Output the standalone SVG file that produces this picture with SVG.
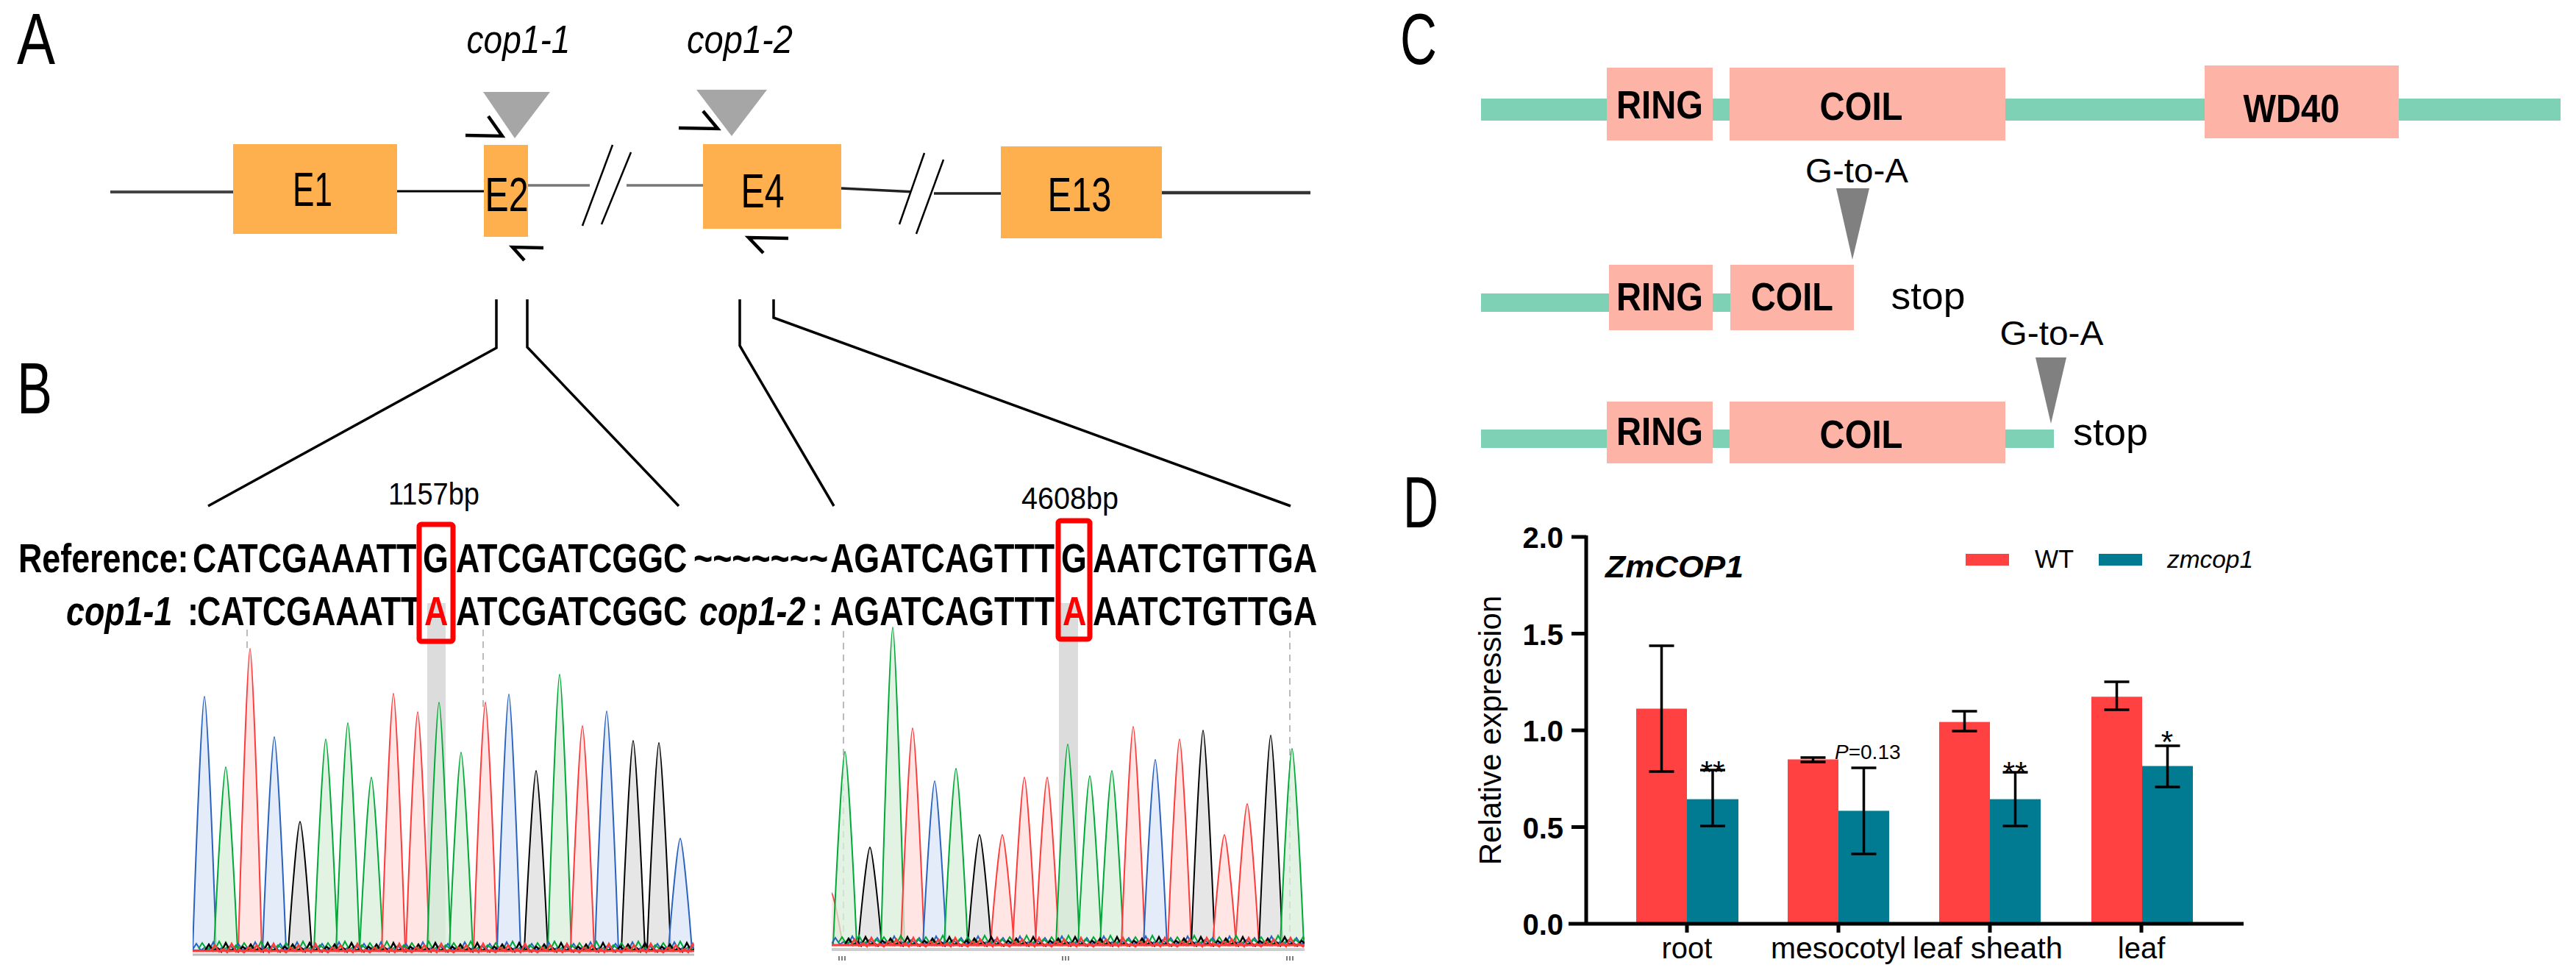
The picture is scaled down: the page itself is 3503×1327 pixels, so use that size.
<svg xmlns="http://www.w3.org/2000/svg" xmlns:xlink="http://www.w3.org/1999/xlink" width="3503" height="1327" viewBox="0 0 3503 1327">
<style>
text{font-family:"Liberation Sans",Arial,sans-serif;fill:#000}
.plabel{font-size:98px}
.exon{fill:#FEB04E}
.exl{font-size:64px;text-anchor:middle}
.cop{font-size:54px;font-style:italic;text-anchor:middle}
.seq{font-size:56px;font-weight:bold}
.it{font-style:italic}
.red{fill:#FF0000}
.bp{font-size:42px;text-anchor:middle}
.dom{fill:#FDB4A6}
.bar{fill:#7ED1B5}
.doml{font-size:53px;font-weight:bold;text-anchor:middle}
.gta{font-size:47px;text-anchor:middle}
.stop{font-size:52px;text-anchor:middle}
.ax{stroke:#000;stroke-width:5;fill:none}
.tick{font-size:40px;font-weight:bold;text-anchor:end}
.cat{font-size:40px;text-anchor:middle}
.wt{fill:#FF4141}
.zm{fill:#007B91}
.err{stroke:#000;stroke-width:3.5;fill:none}
.star{font-size:42px;text-anchor:middle}
.prm{stroke:#000;stroke-width:4.5;fill:none;stroke-linejoin:miter}
.brk{stroke:#000;stroke-width:2.5}
.conn{stroke:#000;stroke-width:3.5;fill:none}
.pk{stroke-width:2;fill-opacity:0.75}
.pB{stroke:#2A62C0;fill:#DCE6F7}
.pG{stroke:#00A838;fill:#D8EFDA}
.pR{stroke:#FF3A3A;fill:#FFDEDB}
.pK{stroke:#000;fill:#DDDDDD}
.dash{stroke:#BBBBBB;stroke-width:2;stroke-dasharray:9,7}
</style>
<defs>
<path id="noise" fill="none" d="M0,0 l5,-8 l6,9 l6,-4 l5,5 l6,-12 l6,11 l5,-3 l6,4 l6,-7 l6,5 l5,-8 l6,9 l6,-4 l5,5 l6,-12 l6,11 l5,-3 l6,4 l6,-7 l6,5 l5,-8 l6,9 l6,-4 l5,5 l6,-12 l6,11 l5,-3 l6,4 l6,-7 l6,5 l5,-8 l6,9 l6,-4 l5,5 l6,-12 l6,11 l5,-3 l6,4 l6,-7 l6,5 l5,-8 l6,9 l6,-4 l5,5 l6,-12 l6,11 l5,-3 l6,4 l6,-7 l6,5 l5,-8 l6,9 l6,-4 l5,5 l6,-12 l6,11 l5,-3 l6,4 l6,-7 l6,5 l5,-8 l6,9 l6,-4 l5,5 l6,-12 l6,11 l5,-3 l6,4 l6,-7 l6,5 l5,-8 l6,9 l6,-4 l5,5 l6,-12 l6,11 l5,-3 l6,4 l6,-7 l6,5 l5,-8 l6,9 l6,-4 l5,5 l6,-12 l6,11 l5,-3 l6,4 l6,-7 l6,5 l5,-8 l6,9 l6,-4 l5,5 l6,-12 l6,11 l5,-3 l6,4 l6,-7 l6,5 l5,-8 l6,9 l6,-4 l5,5 l6,-12 l6,11 l5,-3 l6,4 l6,-7 l6,5 l5,-8 l6,9 l6,-4 l5,5 l6,-12 l6,11 l5,-3 l6,4 l6,-7 l6,5"/>
<clipPath id="clip1"><rect x="262" y="840" width="682" height="460"/></clipPath>
<clipPath id="clip2"><rect x="1131" y="840" width="643" height="455"/></clipPath>
</defs>

<!-- ================= PANEL A ================= -->
<g id="panel-A">
<text id="label-A" class="plabel" x="23" y="87" textLength="52" lengthAdjust="spacingAndGlyphs">A</text>
<g id="gene-backbone">
<line x1="150" y1="261" x2="317" y2="261" stroke="#444" stroke-width="4"/>
<line x1="540" y1="260" x2="658" y2="260" stroke="#000" stroke-width="3"/>
<line x1="718" y1="252" x2="956" y2="252" stroke="#777" stroke-width="3.5"/>
<line x1="1144" y1="256" x2="1245" y2="261" stroke="#222" stroke-width="3.5"/>
<line x1="1262" y1="263" x2="1361" y2="263" stroke="#222" stroke-width="3.5"/>
<line x1="1580" y1="262" x2="1782" y2="262" stroke="#333" stroke-width="4.5"/>
<line x1="802" y1="252" x2="852" y2="252" stroke="#fff" stroke-width="6"/>
<line x1="1238" y1="262" x2="1270" y2="262" stroke="#fff" stroke-width="7"/>
<line class="brk" x1="792" y1="307" x2="833" y2="197"/>
<line class="brk" x1="818" y1="305" x2="858" y2="207"/>
<line class="brk" x1="1223" y1="305" x2="1257" y2="208"/>
<line class="brk" x1="1246" y1="318" x2="1283" y2="217"/>
</g>
<g id="exon-E1"><rect class="exon" x="317" y="196" width="223" height="122"/><text class="exl" x="425" y="280" textLength="54" lengthAdjust="spacingAndGlyphs">E1</text></g>
<g id="exon-E2"><rect class="exon" x="658" y="197" width="60" height="125"/><text class="exl" x="689" y="287" textLength="59" lengthAdjust="spacingAndGlyphs">E2</text></g>
<g id="exon-E4"><rect class="exon" x="956" y="196" width="188" height="115"/><text class="exl" x="1037" y="282" textLength="59" lengthAdjust="spacingAndGlyphs">E4</text></g>
<g id="exon-E13"><rect class="exon" x="1361" y="199" width="219" height="125"/><text class="exl" x="1468" y="287" textLength="87" lengthAdjust="spacingAndGlyphs">E13</text></g>
<g id="mut-cop1-1">
<polygon points="657,125 748,125 700,188" fill="#A6A6A6"/>
<text class="cop" x="705" y="72" textLength="141" lengthAdjust="spacingAndGlyphs">cop1-1</text>
</g>
<g id="mut-cop1-2">
<polygon points="947,122 1043,122 995,185" fill="#A6A6A6"/>
<text class="cop" x="1006" y="72" textLength="144" lengthAdjust="spacingAndGlyphs">cop1-2</text>
</g>
<g id="primers">
<polyline class="prm" points="633,184 683,185 664,158"/>
<polyline class="prm" points="923,174 976,175 956,151"/>
<polyline class="prm" points="739,337 697,336 713,354"/>
<polyline class="prm" points="1072,324 1018,323 1038,344"/>
</g>
</g>

<!-- ================= CONNECTORS A to B ================= -->
<g id="connectors">
<polyline class="conn" points="675,407 675,473 283,688"/>
<polyline class="conn" points="717,407 717,472 923,688"/>
<polyline class="conn" points="1006,407 1006,470 1134,688"/>
<polyline class="conn" points="1052,407 1052,432 1755,688" stroke-width="4.5"/>
</g>

<!-- ================= PANEL B ================= -->
<g id="panel-B">
<text id="label-B" class="plabel" x="23" y="562" textLength="48" lengthAdjust="spacingAndGlyphs">B</text>
<text class="bp" x="590" y="686" textLength="124" lengthAdjust="spacingAndGlyphs">1157bp</text>
<text class="bp" x="1455" y="692" textLength="132" lengthAdjust="spacingAndGlyphs">4608bp</text>

<rect x="581" y="820" width="25" height="472" fill="#DCDCDC"/>
<rect x="1440" y="820" width="26" height="465" fill="#DCDCDC"/>

<text id="seq-reference" class="seq" y="778" transform="scale(0.8,1)"><tspan x="31.25">Reference:</tspan><tspan x="327.5">CATCGAAATT</tspan><tspan x="718.75">G</tspan><tspan x="775">ATCGATCGGC</tspan><tspan x="1178.75">~~~~~~~</tspan><tspan x="1411.25">AGATCAGTTT</tspan><tspan x="1803.75">G</tspan><tspan x="1857.5">AATCTGTTGA</tspan></text>
<text id="seq-mutants" class="seq" y="850" transform="scale(0.8,1)"><tspan x="112.5" class="it">cop1-1</tspan><tspan x="318.75">:</tspan><tspan x="335">CATCGAAATT</tspan><tspan x="721.25" class="red">A</tspan><tspan x="775">ATCGATCGGC</tspan><tspan x="1188.75" class="it">cop1-2</tspan><tspan x="1380">:</tspan><tspan x="1411.25">AGATCAGTTT</tspan><tspan x="1806.25" class="red">A</tspan><tspan x="1857.5">AATCTGTTGA</tspan></text>
<rect x="570" y="713" width="46" height="159" rx="3" fill="none" stroke="#FF0000" stroke-width="7"/>
<rect x="1439" y="708" width="43" height="161" rx="3" fill="none" stroke="#FF0000" stroke-width="7"/>

<line class="dash" x1="336" y1="856" x2="336" y2="885"/>
<line class="dash" x1="657" y1="856" x2="657" y2="965"/>
<line class="dash" x1="1147" y1="858" x2="1147" y2="1285"/>
<line class="dash" x1="1754" y1="858" x2="1754" y2="1285"/>

<g id="chromatogram-1" clip-path="url(#clip1)">
<path class="pk pB" d="M262,1292 C267,1137 275,947 278,947 C281,947 289,1137 294,1292Z"/>
<path class="pk pG" d="M291,1292 C296,1180 304,1043 307,1043 C310,1043 318,1180 323,1292Z"/>
<path class="pk pR" d="M324,1292 C329,1107 337,882 340,882 C343,882 351,1107 356,1292Z"/>
<path class="pk pB" d="M357,1292 C362,1161 370,1002 373,1002 C376,1002 384,1161 389,1292Z"/>
<path class="pk pK" d="M392,1292 C397,1213 405,1117 408,1117 C411,1117 419,1213 424,1292Z"/>
<path class="pk pG" d="M427,1292 C432,1163 440,1005 443,1005 C446,1005 454,1163 459,1292Z"/>
<path class="pk pG" d="M457,1292 C462,1153 470,983 473,983 C476,983 484,1153 489,1292Z"/>
<path class="pk pG" d="M489,1292 C494,1186 502,1057 505,1057 C508,1057 516,1186 521,1292Z"/>
<path class="pk pR" d="M519,1292 C524,1135 532,943 535,943 C538,943 546,1135 551,1292Z"/>
<path class="pk pR" d="M552,1292 C557,1146 565,968 568,968 C571,968 579,1146 584,1292Z"/>
<path class="pk pG" d="M581,1292 C586,1140 594,955 597,955 C600,955 608,1140 613,1292Z"/>
<path class="pk pG" d="M611,1292 C616,1171 624,1023 627,1023 C630,1023 638,1171 643,1292Z"/>
<path class="pk pR" d="M644,1292 C649,1140 657,955 660,955 C663,955 671,1140 676,1292Z"/>
<path class="pk pB" d="M676,1292 C681,1135 689,944 692,944 C695,944 703,1135 708,1292Z"/>
<path class="pk pK" d="M713,1292 C718,1182 726,1048 729,1048 C732,1048 740,1182 745,1292Z"/>
<path class="pk pG" d="M745,1292 C750,1123 758,917 761,917 C764,917 772,1123 777,1292Z"/>
<path class="pk pR" d="M776,1292 C781,1155 789,987 792,987 C795,987 803,1155 808,1292Z"/>
<path class="pk pB" d="M809,1292 C814,1146 822,967 825,967 C828,967 836,1146 841,1292Z"/>
<path class="pk pK" d="M845,1292 C850,1164 858,1007 861,1007 C864,1007 872,1164 877,1292Z"/>
<path class="pk pK" d="M880,1292 C885,1165 893,1010 896,1010 C899,1010 907,1165 912,1292Z"/>
<path class="pk pB" d="M909,1292 C914,1224 922,1140 925,1140 C928,1140 936,1224 941,1292Z"/>
<use href="#noise" stroke="#2A62C0" stroke-width="2" transform="translate(262,1291)"/>
<use href="#noise" stroke="#00A838" stroke-width="2" transform="translate(270,1290)"/>
<use href="#noise" stroke="#000" stroke-width="2.5" transform="translate(279,1292)"/>
<use href="#noise" stroke="#FF3A3A" stroke-width="2.5" transform="translate(287,1293)"/>
<line x1="262" y1="1293" x2="944" y2="1293" stroke="#FF3A3A" stroke-width="3"/>
<line x1="262" y1="1298" x2="944" y2="1298" stroke="#BBBBBB" stroke-width="3"/>
</g>

<g id="chromatogram-2" clip-path="url(#clip2)">
<path class="pk pR" d="M1114,1285 C1119,1253 1127,1213 1130,1213 C1133,1213 1141,1253 1146,1285Z"/>
<path class="pk pG" d="M1133,1285 C1138,1167 1146,1022 1149,1022 C1152,1022 1160,1167 1165,1285Z"/>
<path class="pk pK" d="M1167,1285 C1172,1225 1180,1152 1183,1152 C1186,1152 1194,1225 1199,1285Z"/>
<path class="pk pG" d="M1198,1285 C1203,1091 1211,853 1214,853 C1217,853 1225,1091 1230,1285Z"/>
<path class="pk pR" d="M1225,1285 C1230,1152 1238,990 1241,990 C1244,990 1252,1152 1257,1285Z"/>
<path class="pk pB" d="M1255,1285 C1260,1185 1268,1062 1271,1062 C1274,1062 1282,1185 1287,1285Z"/>
<path class="pk pG" d="M1284,1285 C1289,1177 1297,1045 1300,1045 C1303,1045 1311,1177 1316,1285Z"/>
<path class="pk pK" d="M1316,1285 C1321,1217 1329,1135 1332,1135 C1335,1135 1343,1217 1348,1285Z"/>
<path class="pk pR" d="M1347,1285 C1352,1217 1360,1135 1363,1135 C1366,1135 1374,1217 1379,1285Z"/>
<path class="pk pR" d="M1377,1285 C1382,1182 1390,1057 1393,1057 C1396,1057 1404,1182 1409,1285Z"/>
<path class="pk pR" d="M1408,1285 C1413,1182 1421,1057 1424,1057 C1427,1057 1435,1182 1440,1285Z"/>
<path class="pk pG" d="M1436,1285 C1441,1162 1449,1012 1452,1012 C1455,1012 1463,1162 1468,1285Z"/>
<path class="pk pG" d="M1466,1285 C1471,1181 1479,1055 1482,1055 C1485,1055 1493,1181 1498,1285Z"/>
<path class="pk pG" d="M1496,1285 C1501,1178 1509,1048 1512,1048 C1515,1048 1523,1178 1528,1285Z"/>
<path class="pk pR" d="M1525,1285 C1530,1151 1538,988 1541,988 C1544,988 1552,1151 1557,1285Z"/>
<path class="pk pB" d="M1555,1285 C1560,1172 1568,1033 1571,1033 C1574,1033 1582,1172 1587,1285Z"/>
<path class="pk pR" d="M1588,1285 C1593,1159 1601,1005 1604,1005 C1607,1005 1615,1159 1620,1285Z"/>
<path class="pk pK" d="M1620,1285 C1625,1154 1633,993 1636,993 C1639,993 1647,1154 1652,1285Z"/>
<path class="pk pR" d="M1649,1285 C1654,1217 1662,1135 1665,1135 C1668,1135 1676,1217 1681,1285Z"/>
<path class="pk pR" d="M1680,1285 C1685,1199 1693,1093 1696,1093 C1699,1093 1707,1199 1712,1285Z"/>
<path class="pk pK" d="M1712,1285 C1717,1157 1725,1000 1728,1000 C1731,1000 1739,1157 1744,1285Z"/>
<path class="pk pG" d="M1741,1285 C1746,1165 1754,1018 1757,1018 C1760,1018 1768,1165 1773,1285Z"/>
<use href="#noise" stroke="#2A62C0" stroke-width="2" transform="translate(1131,1283)"/>
<use href="#noise" stroke="#00A838" stroke-width="2" transform="translate(1140,1282)"/>
<use href="#noise" stroke="#000" stroke-width="2.5" transform="translate(1149,1284)"/>
<use href="#noise" stroke="#FF3A3A" stroke-width="2.5" transform="translate(1157,1285)"/>
<line x1="1131" y1="1285" x2="1774" y2="1285" stroke="#FF3A3A" stroke-width="3"/>
<line x1="1131" y1="1291" x2="1774" y2="1291" stroke="#CCCCCC" stroke-width="4"/>
</g>
<g id="chrom2-ticks" stroke="#555" stroke-width="1.5">
<line x1="1141" y1="1300" x2="1141" y2="1306"/><line x1="1145" y1="1300" x2="1145" y2="1306"/><line x1="1149" y1="1300" x2="1149" y2="1306"/>
<line x1="1445" y1="1300" x2="1445" y2="1306"/><line x1="1449" y1="1300" x2="1449" y2="1306"/><line x1="1453" y1="1300" x2="1453" y2="1306"/>
<line x1="1750" y1="1300" x2="1750" y2="1306"/><line x1="1754" y1="1300" x2="1754" y2="1306"/><line x1="1758" y1="1300" x2="1758" y2="1306"/>
</g>
</g>

<!-- ================= PANEL C ================= -->
<g id="panel-C">
<text id="label-C" class="plabel" x="1904" y="87" textLength="50" lengthAdjust="spacingAndGlyphs">C</text>
<g id="protein-WT">
<rect class="bar" x="2014" y="134" width="1468" height="30"/>
<rect class="dom" x="2185" y="92" width="144" height="99"/>
<rect class="dom" x="2352" y="92" width="375" height="99"/>
<rect class="dom" x="2998" y="89" width="264" height="99"/>
<text class="doml" x="2257" y="161" textLength="118" lengthAdjust="spacingAndGlyphs">RING</text>
<text class="doml" x="2531" y="163" textLength="113" lengthAdjust="spacingAndGlyphs">COIL</text>
<text class="doml" x="3116" y="166" textLength="131" lengthAdjust="spacingAndGlyphs">WD40</text>
</g>
<g id="mutation-1">
<text class="gta" x="2525" y="248" textLength="140" lengthAdjust="spacingAndGlyphs">G-to-A</text>
<polygon points="2497,256 2542,256 2519,353" fill="#808080"/>
</g>
<g id="protein-cop1-1">
<rect class="bar" x="2014" y="399" width="340" height="25"/>
<rect class="dom" x="2188" y="360" width="141" height="89"/>
<rect class="dom" x="2353" y="360" width="168" height="89"/>
<text class="doml" x="2257" y="422" textLength="118" lengthAdjust="spacingAndGlyphs">RING</text>
<text class="doml" x="2437" y="422" textLength="112" lengthAdjust="spacingAndGlyphs">COIL</text>
<text class="stop" x="2622" y="420" textLength="101" lengthAdjust="spacingAndGlyphs">stop</text>
</g>
<g id="mutation-2">
<text class="gta" x="2790" y="469" textLength="141" lengthAdjust="spacingAndGlyphs">G-to-A</text>
<polygon points="2768,486 2810,486 2789,576" fill="#808080"/>
</g>
<g id="protein-cop1-2">
<rect class="bar" x="2014" y="584" width="779" height="25"/>
<rect class="dom" x="2185" y="546" width="144" height="84"/>
<rect class="dom" x="2352" y="546" width="375" height="84"/>
<text class="doml" x="2257" y="605" textLength="118" lengthAdjust="spacingAndGlyphs">RING</text>
<text class="doml" x="2531" y="609" textLength="113" lengthAdjust="spacingAndGlyphs">COIL</text>
<text class="stop" x="2870" y="605" textLength="102" lengthAdjust="spacingAndGlyphs">stop</text>
</g>
</g>

<!-- ================= PANEL D ================= -->
<g id="panel-D">
<text id="label-D" class="plabel" x="1908" y="717" textLength="48" lengthAdjust="spacingAndGlyphs">D</text>
<g id="bars">
<rect class="wt" x="2225" y="963.5" width="69" height="292.5"/>
<rect class="zm" x="2294" y="1086.6" width="70" height="169.4"/>
<rect class="wt" x="2431" y="1032.5" width="69" height="223.5"/>
<rect class="zm" x="2500" y="1102.4" width="69" height="153.6"/>
<rect class="wt" x="2637" y="981.6" width="69" height="274.4"/>
<rect class="zm" x="2706" y="1086.6" width="69" height="169.4"/>
<rect class="wt" x="2844" y="947.3" width="69" height="308.7"/>
<rect class="zm" x="2913" y="1041.5" width="69" height="214.5"/>
</g>
<g id="error-bars">
<path class="err" d="M2259.5,878 V1049 M2242.5,878 H2276.5 M2242.5,1049 H2276.5"/>
<path class="err" d="M2329,1047 V1123 M2312,1047 H2346 M2312,1123 H2346"/>
<path class="err" d="M2465.5,1030 V1036 M2448.5,1030 H2482.5 M2448.5,1036 H2482.5"/>
<path class="err" d="M2534.5,1044 V1161 M2517.5,1044 H2551.5 M2517.5,1161 H2551.5"/>
<path class="err" d="M2671.5,967 V994 M2654.5,967 H2688.5 M2654.5,994 H2688.5"/>
<path class="err" d="M2740.5,1050 V1123 M2723.5,1050 H2757.5 M2723.5,1123 H2757.5"/>
<path class="err" d="M2878.5,927 V965 M2861.5,927 H2895.5 M2861.5,965 H2895.5"/>
<path class="err" d="M2947.5,1014 V1070 M2930.5,1014 H2964.5 M2930.5,1070 H2964.5"/>
</g>
<g id="significance">
<text class="star" x="2329" y="1064">**</text>
<text class="star" x="2740" y="1065">**</text>
<text class="star" x="2947" y="1023">*</text>
<text x="2495" y="1032" font-size="28"><tspan font-style="italic">P</tspan>=0.13</text>
</g>
<g id="axes">
<line class="ax" x1="2157" y1="728" x2="2157" y2="1258"/>
<line class="ax" x1="2133" y1="1256" x2="3051" y2="1256" stroke-width="6"/>
<path class="ax" d="M2137,730 H2157 M2137,861.5 H2157 M2137,993 H2157 M2137,1124.5 H2157"/>
<path class="ax" stroke-width="4" d="M2294,1256 V1268 M2500,1256 V1268 M2706,1256 V1268 M2912,1256 V1268"/>
<text class="tick" x="2126" y="745">2.0</text>
<text class="tick" x="2126" y="876.5">1.5</text>
<text class="tick" x="2126" y="1008">1.0</text>
<text class="tick" x="2126" y="1139.5">0.5</text>
<text class="tick" x="2126" y="1271">0.0</text>
<text x="2041" y="993" font-size="42" text-anchor="middle" transform="rotate(-90 2041 993)">Relative expression</text>
<text class="cat" x="2294" y="1303">root</text>
<text class="cat" x="2500" y="1303" textLength="184" lengthAdjust="spacingAndGlyphs">mesocotyl</text>
<text class="cat" x="2703" y="1303" textLength="204" lengthAdjust="spacingAndGlyphs">leaf sheath</text>
<text class="cat" x="2912" y="1303">leaf</text>
</g>
<text x="2183" y="785" font-size="42" font-weight="bold" font-style="italic" textLength="188" lengthAdjust="spacingAndGlyphs">ZmCOP1</text>
<g id="legend">
<rect class="wt" x="2673" y="753" width="59" height="16"/>
<text x="2767" y="772" font-size="35" textLength="53" lengthAdjust="spacingAndGlyphs">WT</text>
<rect class="zm" x="2854" y="753" width="59" height="16"/>
<text x="2947" y="772" font-size="34" font-style="italic" textLength="117" lengthAdjust="spacingAndGlyphs">zmcop1</text>
</g>
</g>
</svg>
